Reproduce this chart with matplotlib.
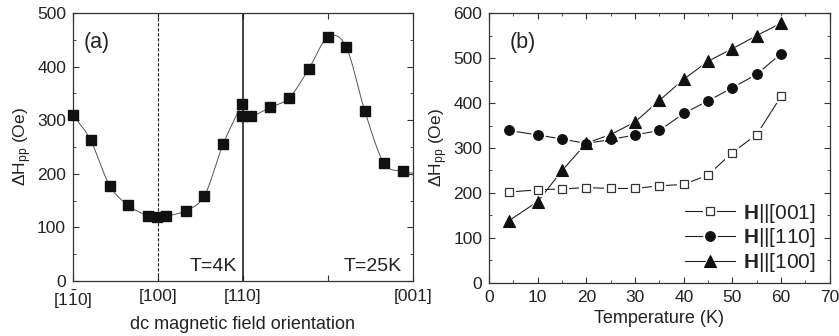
import numpy as np
import matplotlib
matplotlib.use("Agg")
import matplotlib.pyplot as plt
from matplotlib.ticker import MultipleLocator
from matplotlib.lines import Line2D

plt.rcParams['font.family'] = ['Liberation Sans', 'DejaVu Sans']
plt.rcParams['mathtext.fontset'] = 'custom'
plt.rcParams['mathtext.rm'] = 'Liberation Sans'
plt.rcParams['mathtext.it'] = 'Liberation Sans:italic'
plt.rcParams['mathtext.bf'] = 'Liberation Sans:bold'

# ---- panel (a) data: angle (deg) vs linewidth ----
angle_4K = [0, 9.3, 19.4, 29.4, 39.8, 44.6, 49.5, 59.6, 69.6, 79.5, 89.6]
dH_4K = [310, 263, 178, 141, 121, 119, 121, 131, 159, 255, 331]
angle_25K = [89.6, 94.5, 104.5, 114.6, 124.8, 135.0, 144.7, 154.6, 164.7, 174.7]
dH_25K = [307, 307, 324, 342, 395, 455, 437, 317, 220, 205]
orient_ticks = [0, 45, 90, 135, 180]
orient_labels = [r'[1$\mathrm{\bar{1}}$0]', '[100]', '[110]', '', '[001]']

# ---- panel (b) data: temperature dependence ----
temperature = [4, 10, 15, 20, 25, 30, 35, 40, 45, 50, 55, 60]
dH_001 = [202, 207, 209, 212, 210, 210, 216, 219, 240, 290, 330, 415]
dH_110 = [339, 329, 320, 310, 319, 329, 339, 377, 405, 434, 464, 510]
dH_100 = [138, 181, 250, 311, 330, 358, 406, 453, 493, 521, 550, 578]
labels_b = [r'$\mathbf{H}$||[001]', r'$\mathbf{H}$||[110]', r'$\mathbf{H}$||[100]']


def catmull(xs, ys, n=20):
    xs = np.asarray(xs, float); ys = np.asarray(ys, float)
    P = np.column_stack([xs, ys])
    P = np.vstack([2 * P[0] - P[1], P, 2 * P[-1] - P[-2]])
    out = []
    t = np.linspace(0, 1, n)[:, None]
    for i in range(1, len(P) - 2):
        p0, p1, p2, p3 = P[i - 1], P[i], P[i + 1], P[i + 2]
        seg = 0.5 * ((2 * p1) + (-p0 + p2) * t + (2 * p0 - 5 * p1 + 4 * p2 - p3) * t ** 2
                     + (-p0 + 3 * p1 - 3 * p2 + p3) * t ** 3)
        out.append(seg)
    out = np.vstack(out)
    return out[:, 0], out[:, 1]


txtc = '#222222'
fig = plt.figure(figsize=(8.39, 3.36), dpi=100)
ax1 = fig.add_axes([0.087, 0.164, 0.405, 0.797])
ax2 = fig.add_axes([0.583, 0.158, 0.406, 0.803])

# panel a
cx, cy = catmull(angle_4K, dH_4K)
ax1.plot(cx, cy, color='#555555', lw=0.7, zorder=2)
cx, cy = catmull(angle_25K + [180], dH_25K + [201])
ax1.plot(cx, cy, color='#555555', lw=0.7, zorder=2)
ax1.plot(angle_4K, dH_4K, 's', color='#111111', ms=7.5, zorder=3, clip_on=False)
ax1.plot(angle_25K, dH_25K, 's', color='#111111', ms=7.5, zorder=3, clip_on=False)
ax1.axvline(45, color='#222222', lw=0.8, ls=(0, (3, 1.5)))
ax1.axvline(90, color='#111111', lw=1.1)
ax1.set_xlim(0, 180)
ax1.set_ylim(0, 500)
ax1.set_xticks(orient_ticks)
ax1.set_xticklabels(orient_labels)
ax1.yaxis.set_major_locator(MultipleLocator(100))
ax1.yaxis.set_minor_locator(MultipleLocator(50))
ax1.set_xlabel('dc magnetic field orientation', fontsize=13, color=txtc, labelpad=3)
ax1.set_ylabel(r'$\Delta$H$_{\mathrm{pp}}$ (Oe)', fontsize=12.5, color=txtc, labelpad=2)
ax1.text(0.03, 0.93, '(a)', transform=ax1.transAxes, fontsize=15.5, va='top', color=txtc)
ax1.text(62, 18, 'T=4K', fontsize=14, color=txtc)
ax1.text(143.5, 18, 'T=25K', fontsize=14, color=txtc)

# panel b
styles = [
    dict(marker='s', mfc='white', mec='#333333', ms=6.3, mew=0.9),
    dict(marker='o', mfc='#111111', mec='#111111', ms=7, mew=0.8),
    dict(marker='^', mfc='#111111', mec='#111111', ms=8, mew=0.8),
]
handles = []
for yv, st in zip([dH_001, dH_110, dH_100], styles):
    ax2.plot(temperature, yv, '-', color='#222222', lw=0.8, zorder=2)
    ax2.plot(temperature, yv, ls='none', marker=st['marker'], mfc='white', mec='white',
             ms=st['ms'] + 3.5, mew=0, zorder=3)
    ax2.plot(temperature, yv, ls='none', zorder=4, **st)
    h_line = Line2D([], [], color='#222222', lw=0.8)
    h_halo = Line2D([], [], ls='none', marker=st['marker'], mfc='white', mec='white',
                    ms=st['ms'] + 3.5, mew=0)
    h_mark = Line2D([], [], ls='none', **st)
    handles.append((h_line, h_halo, h_mark))

ax2.set_xlim(0, 70)
ax2.set_ylim(0, 600)
ax2.xaxis.set_major_locator(MultipleLocator(10))
ax2.xaxis.set_minor_locator(MultipleLocator(5))
ax2.yaxis.set_major_locator(MultipleLocator(100))
ax2.yaxis.set_minor_locator(MultipleLocator(50))
ax2.set_xlabel('Temperature (K)', fontsize=13, color=txtc, labelpad=4)
ax2.set_ylabel(r'$\Delta$H$_{\mathrm{pp}}$ (Oe)', fontsize=12.5, color=txtc, labelpad=2)
ax2.text(0.06, 0.93, '(b)', transform=ax2.transAxes, fontsize=15.5, va='top', color=txtc)
leg = ax2.legend(handles, labels_b, loc='lower right', bbox_to_anchor=(0.99, -0.005),
                 frameon=False, fontsize=15, handlelength=2.4, handletextpad=0.4,
                 labelspacing=0.08, borderaxespad=0.1)
for t in leg.get_texts():
    t.set_color(txtc)

for ax in (ax1, ax2):
    ax.tick_params(which='both', direction='in', top=True, right=True,
                   labelsize=12.5, colors='#333333', labelcolor=txtc, pad=5)
    ax.tick_params(which='major', length=4)
    ax.tick_params(which='minor', length=2.5)
    for s in ax.spines.values():
        s.set_linewidth(0.9)
        s.set_color('#333333')
ax1.tick_params(axis='x', pad=6)

fig.savefig('out.png', dpi=100)
